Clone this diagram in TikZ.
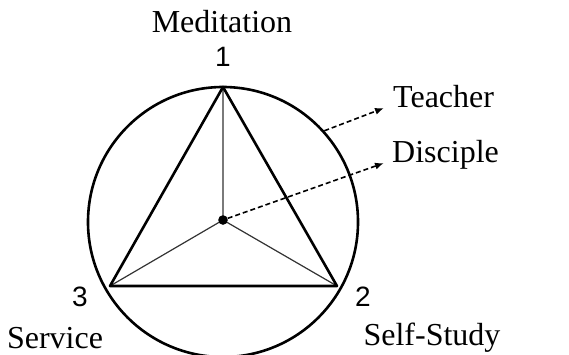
\documentclass[tikz,border=0pt]{standalone}
\usepackage{fontspec}
\setmainfont{Liberation Serif}
\newfontfamily\numfont{Liberation Sans}
\usetikzlibrary{arrows.meta}

\begin{document}
\begin{tikzpicture}[x=1pt,y=-1pt,
  word/.style={font=\fontsize{32}{36}\selectfont,anchor=base,inner sep=0pt},
  num/.style={font=\numfont\fontsize{28}{32}\selectfont,inner sep=0pt},
  dot/.style={circle,fill=black,inner sep=3.4pt},
  ptr/.style={dash pattern=on 5pt off 3pt,line width=1.6pt,-{Latex[length=9pt,width=7pt]}}]
\useasboundingbox (0,0) rectangle (569,354);
\coordinate (v1) at (223,87);\coordinate (v2) at (337,286);\coordinate (v3) at (110,286);
\node[draw,circle,line width=2.6pt,minimum size=270pt,inner sep=0pt] (ring) at (223,222) {};
\draw[line width=1.2pt,black!80] (223,220)--(v1) (223,220)--(v2) (223,220)--(v3);
\draw[line width=2.6pt,line join=round] (v1)--(v2)--(v3)--cycle;
\node[dot] (c) at (223,220) {};
% labels of the corners
\node[word] (med) at (222,32) {Meditation};
\node[num] (n1) at (223,57) {1};
\node[num] (n2) at (363,297) {2};
\node[num] (n3) at (80,297) {3};
\node[word] (serv) at (55,348) {Service};
\node[word] (self) at (432,345) {Self-Study};
% pointers
\node[word,anchor=base west] (teach) at (393,107) {Teacher};
\node[word,anchor=base west] (disc) at (392,162) {Disciple};
\coordinate (tend) at (384,108);\coordinate (dend) at (384,163);
\draw[ptr] (ring.42.7)--(tend);
\draw[ptr] (c)--(dend);
\end{tikzpicture}
\end{document}
